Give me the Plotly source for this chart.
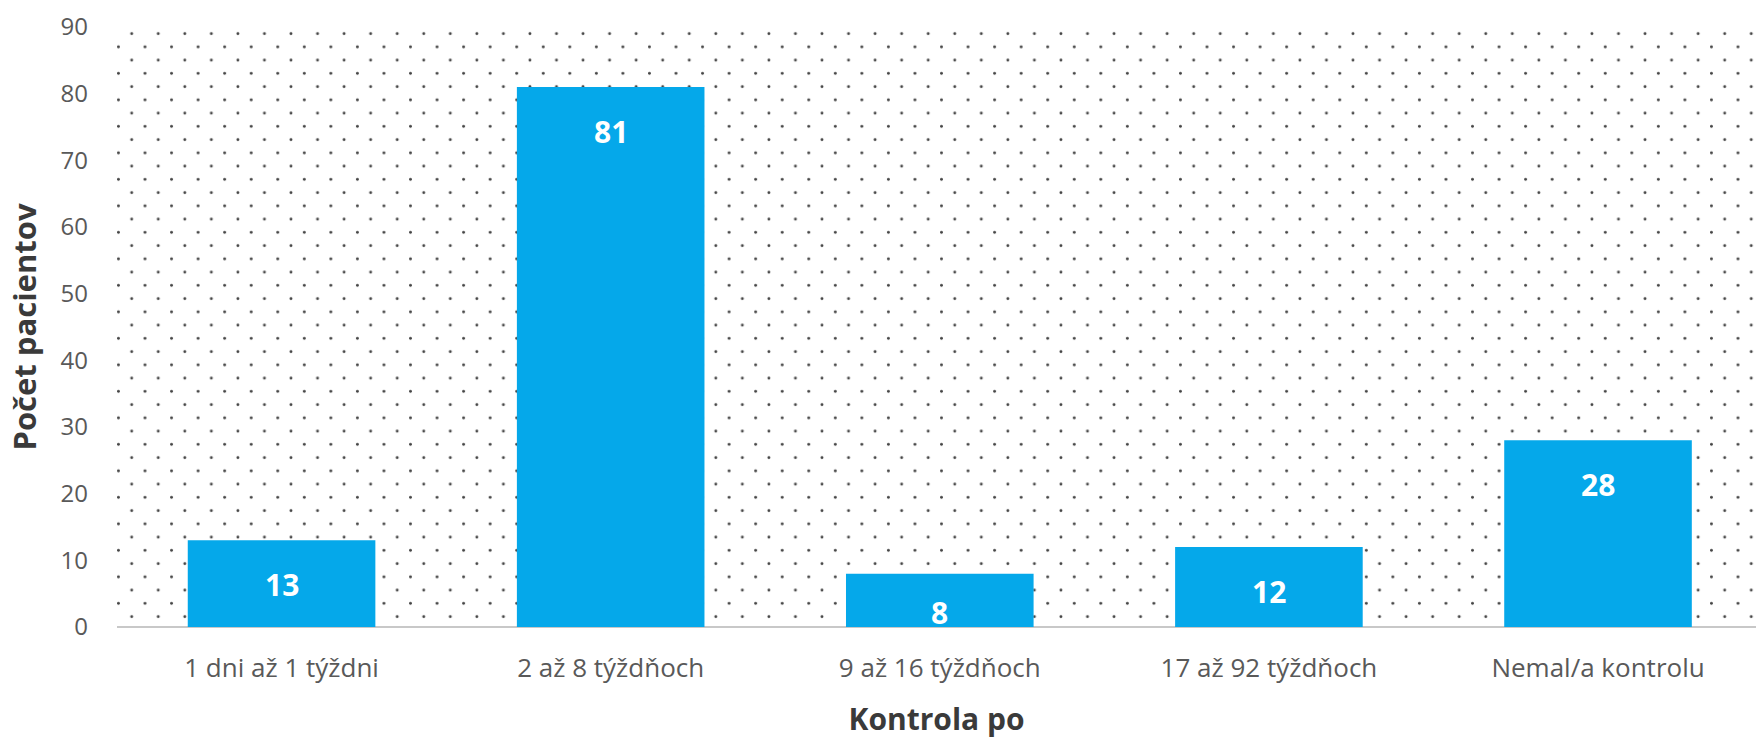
import plotly.graph_objects as go
import base64

categories = ["1 dni až 1 týždni", "2 až 8 týždňoch", "9 až 16 týždňoch", "17 až 92 týždňoch", "Nemal/a kontrolu"]
values = [13, 81, 8, 12, 28]
y_ticks = [0, 10, 20, 30, 40, 50, 60, 70, 80, 90]

W, H = 1756, 739
ML, MR, MT, MB = 117, 0, 27, 112
PW, PH = W - ML - MR, H - MT - MB
YMAX = 90

BAR_COLOR = "#05A8EA"
FONT = "Open Sans"
GRAY = "#595959"
TITLE_GRAY = "#3a3a3a"

# dotted background pattern as svg image
svg = (
    f'<svg xmlns="http://www.w3.org/2000/svg" width="{PW}" height="{PH}">'
    '<defs><pattern id="p" x="0" y="0" width="26.55" height="26.5" patternUnits="userSpaceOnUse">'
    '<circle cx="14.7" cy="6.7" r="1.45" fill="#454545"/>'
    '<circle cx="1.45" cy="19.95" r="1.45" fill="#454545"/>'
    '</pattern></defs>'
    f'<rect width="{PW}" height="{PH}" fill="url(#p)"/></svg>'
)
src = "data:image/svg+xml;base64," + base64.b64encode(svg.encode()).decode()

fig = go.Figure()
fig.add_trace(go.Bar(
    x=categories, y=values,
    marker=dict(color=BAR_COLOR, line=dict(width=0)),
    width=0.57,
    hoverinfo="x+y",
))

# data labels (inside end)
px_per_unit = PH / YMAX
for c, v in zip(categories, values):
    h = v * px_per_unit
    shift = -min(44, h - 15)
    fig.add_annotation(x=c, y=v, text=str(v), showarrow=False, yshift=shift,
                       font=dict(family=FONT, size=30, color="white", weight="bold"),
                       xanchor="center", yanchor="middle")

fig.add_layout_image(dict(source=src, xref="paper", yref="paper", x=0, y=1,
                          sizex=1, sizey=1, sizing="stretch", xanchor="left",
                          yanchor="top", layer="below"))

fig.update_layout(
    width=W, height=H,
    margin=dict(l=ML, r=MR, t=MT, b=MB, pad=0),
    plot_bgcolor="white", paper_bgcolor="white",
    showlegend=False,
    font=dict(family=FONT, color=GRAY),
    xaxis=dict(
        type="category", range=[-0.5, 4.48],
        showgrid=False, zeroline=False, showline=False,
        ticks="", tickfont=dict(size=26, color=GRAY),
        ticklabelstandoff=23,
        title=dict(text="Kontrola po", font=dict(size=30, color=TITLE_GRAY, weight="bold"), standoff=26),
    ),
    yaxis=dict(
        range=[0, YMAX], tickvals=y_ticks,
        showgrid=False, zeroline=True, zerolinecolor="#c8c8c8", zerolinewidth=2,
        showline=False, ticks="",
        tickfont=dict(size=24, color=GRAY),
        ticklabelstandoff=28,
        title=dict(text="Počet pacientov", font=dict(size=31, color=TITLE_GRAY, weight="bold"), standoff=14),
    ),
)

fig.write_html("out.html")
